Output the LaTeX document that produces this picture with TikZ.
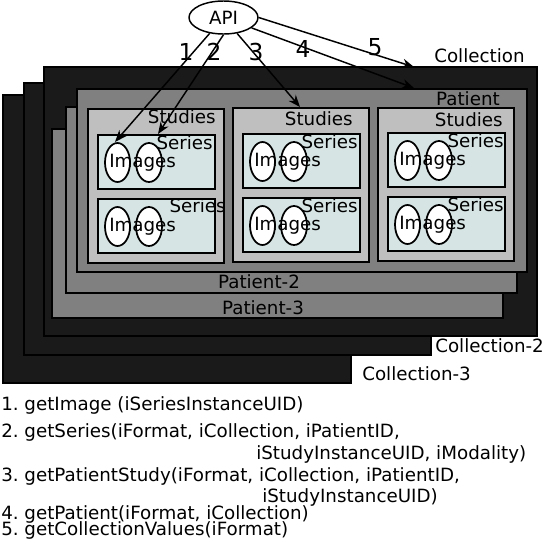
\documentclass[tikz,border=0pt]{standalone}
\usepackage{fontspec}
\setmainfont{DejaVu Sans}
\usetikzlibrary{arrows.meta, shapes.geometric}

\definecolor{collfill}{RGB}{26,26,26}
\definecolor{patfill}{RGB}{128,128,128}
\definecolor{studfill}{RGB}{191,191,191}
\definecolor{serfill}{RGB}{215,228,228}

\tikzset{
	collbox/.style={draw=black, line width=1.5pt, fill=collfill},
	patbox/.style={draw=black, line width=1.5pt, fill=patfill},
	studbox/.style={draw=black, line width=1.5pt, fill=studfill},
	serbox/.style={draw=black, line width=1.5pt, fill=serfill},
	imgell/.style={draw=black, line width=1.3pt, fill=white},
	lbl/.style={inner sep=0pt, font=\fontsize{13.7}{16}\selectfont\frenchspacing},
	numlbl/.style={inner sep=0pt, font=\fontsize{17.5}{20}\selectfont},
	apiarrow/.style={-{Stealth[length=9pt, width=7pt]}, line width=1.1pt}
}

\begin{document}
\begin{tikzpicture}[x=0.75pt, y=-0.75pt]
		
		\useasboundingbox (0, 0) rectangle (542, 540);
		
		% collections
		\draw [collbox] (3, 95) rectangle (351, 383);
		\draw [collbox] (24, 83) rectangle (431, 355);
		\draw [collbox] (44, 67) rectangle (537, 336);
		
		% patients
		\draw [patbox] (52, 129) rectangle (503, 318);
		\draw [patbox] (66, 107) rectangle (517, 293);
		\draw [patbox] (77, 89) rectangle (527, 272);
		
		% studies
		\draw [studbox] (88, 109) rectangle (224, 263);
		\draw [studbox] (233, 108) rectangle (369, 262);
		\draw [studbox] (378, 108) rectangle (514, 261);
		
		% series
		\draw [serbox] (98, 135) rectangle (215, 189);
		\draw [serbox] (98, 199) rectangle (215, 253);
		\draw [serbox] (243, 134) rectangle (360, 188);
		\draw [serbox] (243, 198) rectangle (360, 252);
		\draw [serbox] (388, 133) rectangle (505, 187);
		\draw [serbox] (388, 197) rectangle (505, 251);
		
		% images
		\draw [imgell] (117.5, 162.5) ellipse [x radius=12.5, y radius=19.5];
		\draw [imgell] (149, 162.5) ellipse [x radius=13, y radius=19.5];
		\draw [imgell] (117.5, 226.5) ellipse [x radius=12.5, y radius=19.5];
		\draw [imgell] (149, 226.5) ellipse [x radius=13, y radius=19.5];
		\draw [imgell] (262.5, 161.5) ellipse [x radius=12.5, y radius=19.5];
		\draw [imgell] (294, 161.5) ellipse [x radius=13, y radius=19.5];
		\draw [imgell] (262.5, 225.5) ellipse [x radius=12.5, y radius=19.5];
		\draw [imgell] (294, 225.5) ellipse [x radius=13, y radius=19.5];
		\draw [imgell] (407.5, 160.5) ellipse [x radius=12.5, y radius=19.5];
		\draw [imgell] (439, 160.5) ellipse [x radius=13, y radius=19.5];
		\draw [imgell] (407.5, 224.5) ellipse [x radius=12.5, y radius=19.5];
		\draw [imgell] (439, 224.5) ellipse [x radius=13, y radius=19.5];
		
		\node [lbl, anchor=base west] (im1a) at (109, 167) {Images};
		\node [lbl, anchor=base west] (im1b) at (109, 231) {Images};
		\node [lbl, anchor=base west] (im2a) at (254, 166) {Images};
		\node [lbl, anchor=base west] (im2b) at (254, 230) {Images};
		\node [lbl, anchor=base west] (im3a) at (399, 165) {Images};
		\node [lbl, anchor=base west] (im3b) at (399, 229) {Images};
		
		\node [lbl, anchor=base east] (se1a) at (213, 149) {Series};
		\node [lbl, anchor=base east] (se1b) at (226, 212) {Series};
		\node [lbl, anchor=base east] (se2a) at (358, 148) {Series};
		\node [lbl, anchor=base east] (se2b) at (358, 212) {Series};
		\node [lbl, anchor=base east] (se3a) at (504, 147) {Series};
		\node [lbl, anchor=base east] (se3b) at (504, 211) {Series};
		
		\node [lbl, anchor=base east] (st1) at (216, 123) {Studies};
		\node [lbl, anchor=base east] (st2) at (353, 125) {Studies};
		\node [lbl, anchor=base east] (st3) at (503, 126) {Studies};
		
		\node [lbl, anchor=base east] (pat1) at (500, 105) {Patient};
		\node [lbl, anchor=base] (pat2) at (259, 288) {Patient-2};
		\node [lbl, anchor=base] (pat3) at (263, 314) {Patient-3};
		
		\node [lbl, anchor=base west] (coll1) at (434, 62) {Collection};
		\node [lbl, anchor=base west] (coll2) at (435, 352) {Collection-2};
		\node [lbl, anchor=base west] (coll3) at (362, 380) {Collection-3};
		
		% api and calls
		\node [lbl, draw, line width=1.1pt, fill=white, ellipse, minimum width=51.75pt, minimum height=24.75pt] (api) at (223.5, 17.5) {API};
		
		\coordinate (t1) at (115, 142);
		\coordinate (t2) at (158, 134);
		\coordinate (t3) at (300, 107);
		\coordinate (t4) at (414, 88);
		\coordinate (t5) at (414, 67);
		
		\draw [apiarrow] (api) -- (t1);
		\draw [apiarrow] (api.south) -- (t2);
		\draw [apiarrow] (api) -- (t3);
		\draw [apiarrow] (api) -- (t4);
		\draw [apiarrow] (api.east) -- (t5);
		
		\node [numlbl, anchor=base] (n1) at (186, 60) {1};
		\node [numlbl, anchor=base] (n2) at (214, 60) {2};
		\node [numlbl, anchor=base] (n3) at (256, 60) {3};
		\node [numlbl, anchor=base] (n4) at (303, 57) {4};
		\node [numlbl, anchor=base] (n5) at (375, 55) {5};
		
		% list of calls
		\node [lbl, anchor=base west] (c1) at (1, 410) {1. getImage (iSeriesInstanceUID)};
		\node [lbl, anchor=base west] (c2) at (1, 437) {2. getSeries(iFormat, iCollection, iPatientID,};
		\node [lbl, anchor=base west] (c2b) at (256, 459) {iStudyInstanceUID, iModality)};
		\node [lbl, anchor=base west] (c3) at (1, 481) {3. getPatientStudy(iFormat, iCollection, iPatientID,};
		\node [lbl, anchor=base west] (c3b) at (262, 502) {iStudyInstanceUID)};
		\node [lbl, anchor=base west] (c4) at (1, 519) {4. getPatient(iFormat, iCollection)};
		\node [lbl, anchor=base west] (c5) at (1, 535) {5. getCollectionValues(iFormat)};
		
\end{tikzpicture}
\end{document}
